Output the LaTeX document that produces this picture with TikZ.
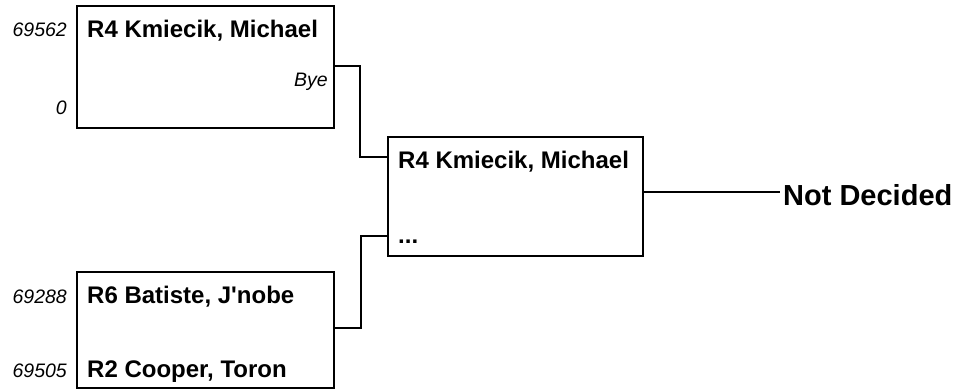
\documentclass[tikz,border=0pt]{standalone}
\usepackage{fontspec}
\setmainfont{Liberation Sans}[Ligatures=TeXOff]
\begin{document}
\begin{tikzpicture}[x=1pt,y=-1pt,
  mbox/.style={draw=black,line width=1.6pt,rectangle,anchor=north west,inner sep=0pt},
  player/.style={anchor=base west,inner sep=0pt,font=\fontsize{24}{26}\selectfont\bfseries},
  seed/.style={anchor=base east,inner sep=0pt,font=\fontsize{19.5}{21}\selectfont\itshape},
  conn/.style={draw=black,line width=1.3pt},
  result/.style={anchor=base west,inner sep=0pt,font=\fontsize{29}{32}\selectfont\bfseries}]
\useasboundingbox (0,0) rectangle (958,389);
% boxes
\node[mbox,minimum width=257pt,minimum height=122pt] (b1) at (76,5) {};
\node[mbox,minimum width=255pt,minimum height=119pt] (b2) at (387,136) {};
\node[mbox,minimum width=257pt,minimum height=116pt] (b3) at (76,271) {};
% texts box 1
\node[player] (t1) at (87,37) {R4 Kmiecik, Michael};
\node[seed] (s1) at (67,36) {69562};
\node[seed] (s0) at (67,114) {0};
\node[seed] (bye) at (328,86) {Bye};
% texts box 2
\node[player] (t2) at (398,168) {R4 Kmiecik, Michael};
\node[player] (dots) at (398,243) {...};
% texts box 3
\node[player] (t3) at (87,303) {R6 Batiste, J'nobe};
\node[player] (t4) at (87,377) {R2 Cooper, Toron};
\node[seed] (s3) at (67,303) {69288};
\node[seed] (s4) at (67,377) {69505};
% result
\node[result] (nd) at (783,205) {Not Decided};
% connectors
\coordinate (ja) at (360,66);
\coordinate (jb) at (360,157);
\coordinate (jc) at (361,236);
\coordinate (jd) at (361,328);
\coordinate (je) at (780,192);
\draw[conn] (b1.east |- ja) -- (ja) -- (jb) -- (b2.west |- jb);
\draw[conn] (b3.east |- jd) -- (jd) -- (jc) -- (b2.west |- jc);
\draw[conn] (b2.east |- je) -- (je);
\end{tikzpicture}
\end{document}
